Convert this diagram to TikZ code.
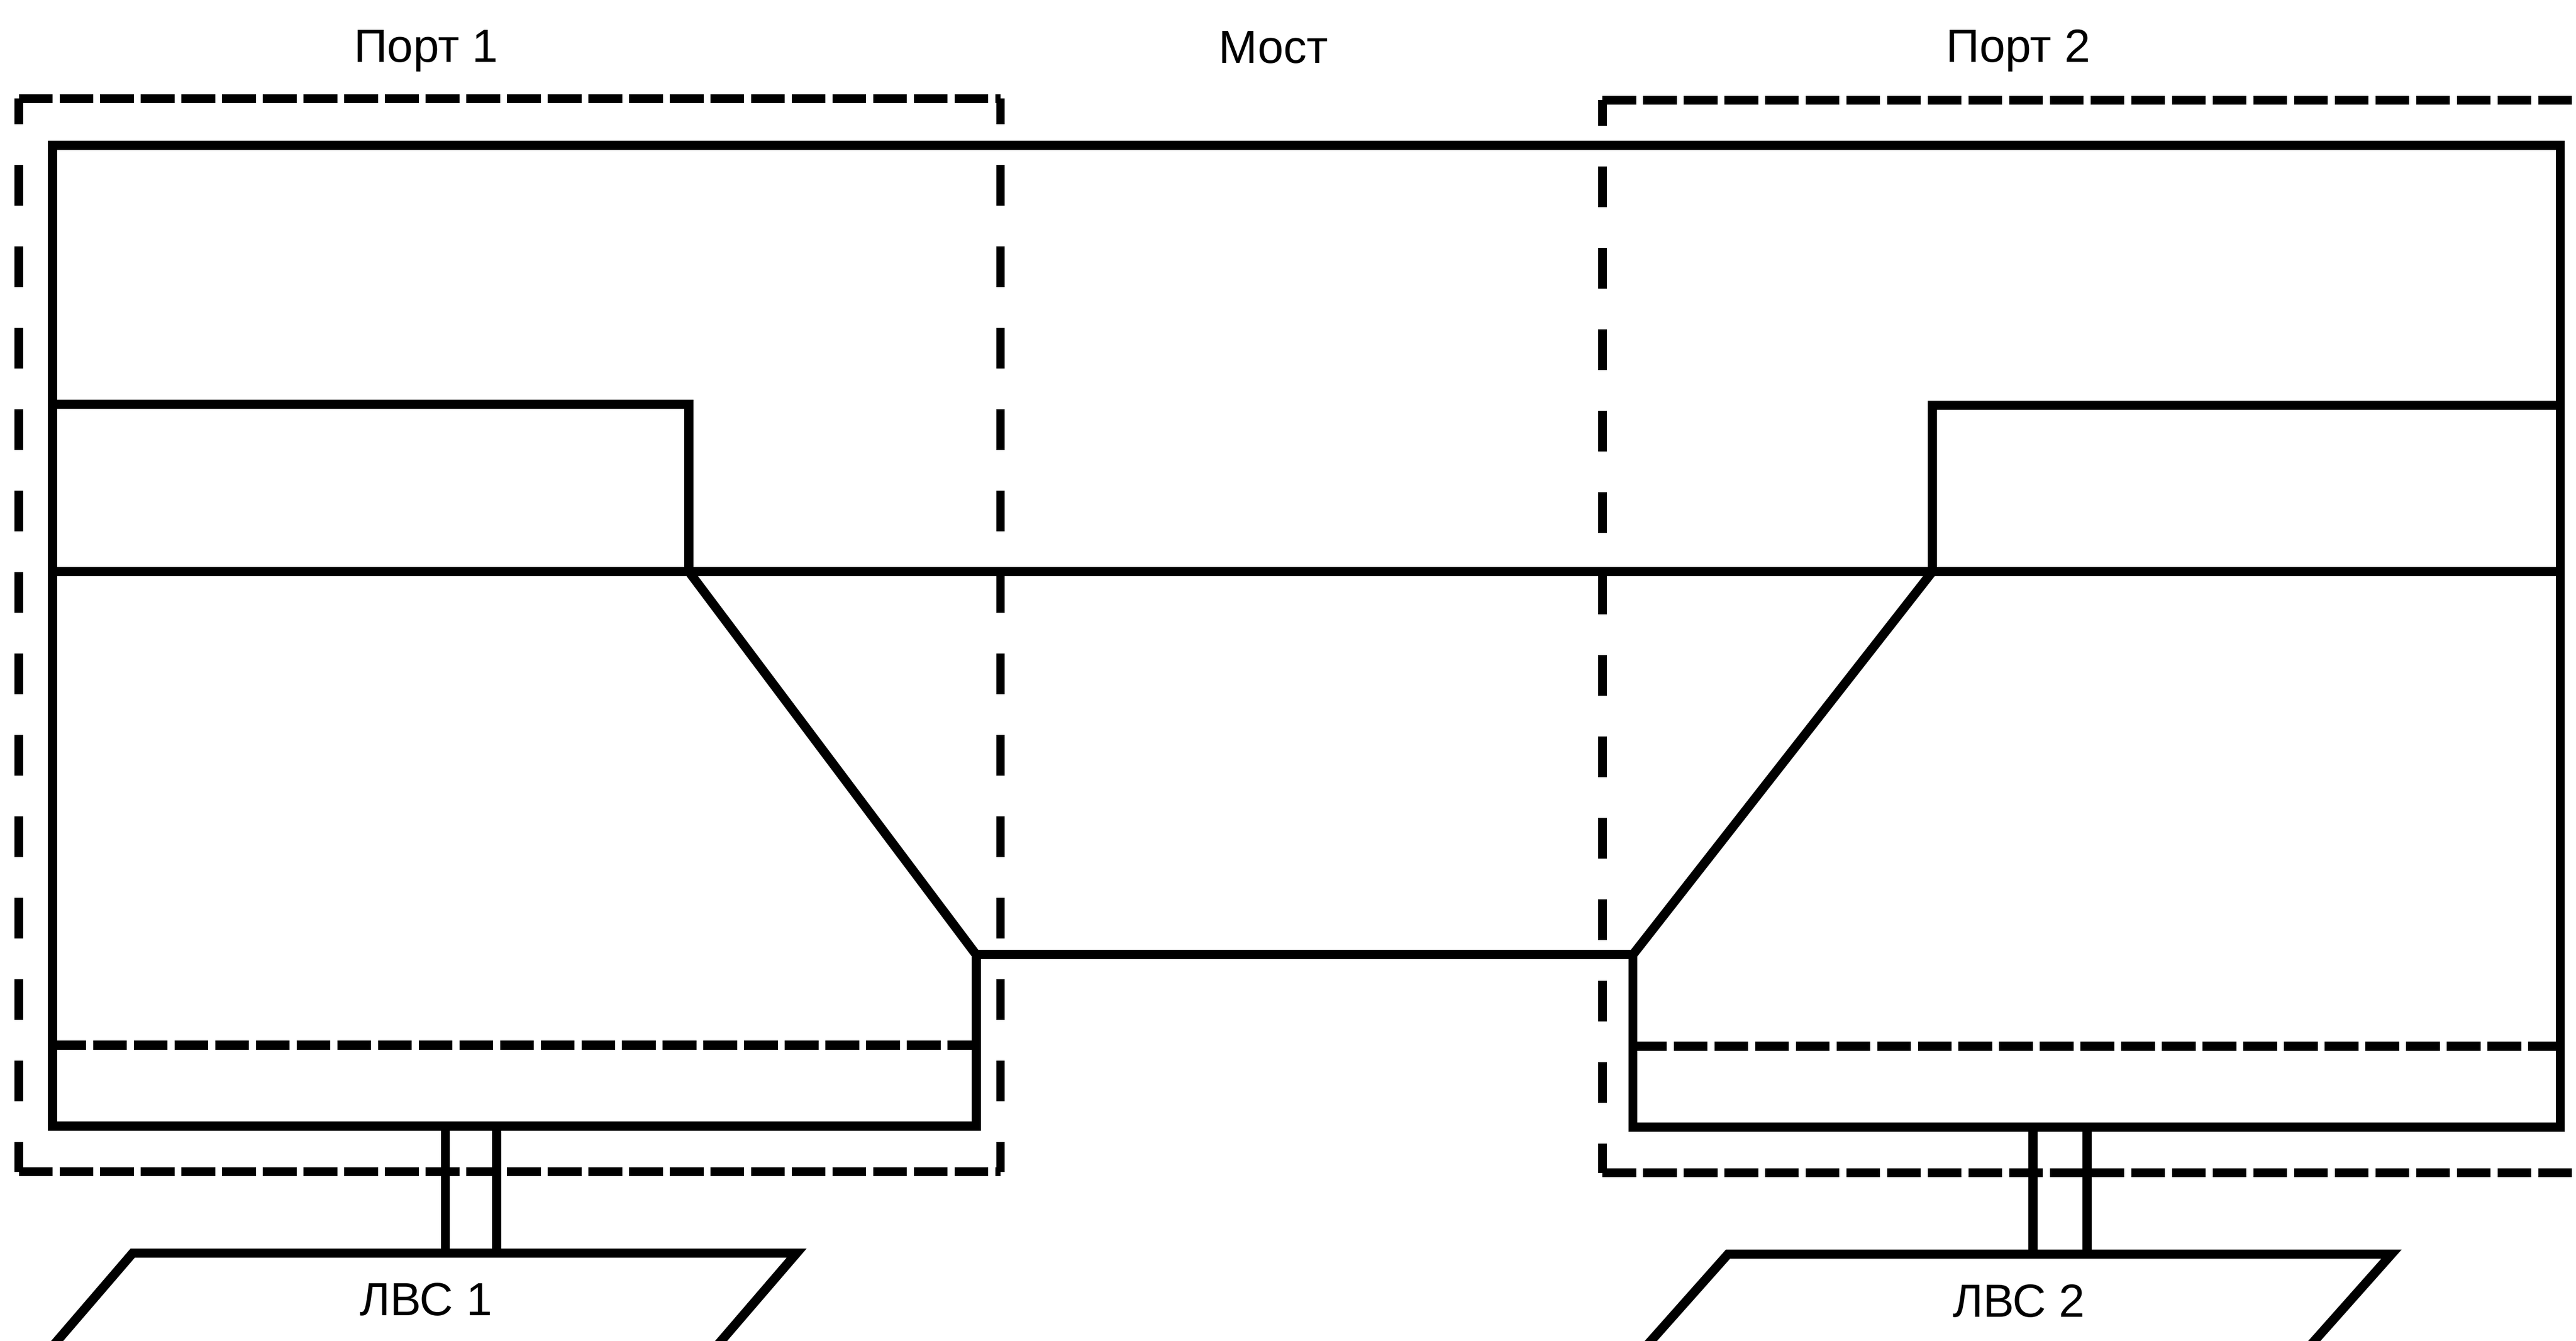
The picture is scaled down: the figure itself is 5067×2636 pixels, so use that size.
\documentclass[tikz,border=0pt]{standalone}
\usepackage{fontspec}
\setmainfont{Liberation Sans}
\begin{document}
\begin{tikzpicture}[x=0.01cm,y=-0.01cm,
  solidline/.style={line width=0.18cm,line join=miter},
  hdashed/.style={line width=0.18cm,dash pattern=on 0.66cm off 0.14cm},
  vdashed/.style={line width=0.17cm,dash pattern=on 0.8cm off 0.8cm,dash phase=0.3cm},
  lbl/.style={font=\fontsize{26}{30}\selectfont,anchor=base,inner sep=0pt}]
\useasboundingbox (0,0) rectangle (5067,2636);
% labels
\node[lbl] (p1) at (838,122) {Порт 1};
\node[lbl] (most) at (2505,124) {Мост};
\node[lbl] (p2) at (3970,122) {Порт 2};
% port 1 dashed frame
\coordinate (a1) at (37,194);
\coordinate (a2) at (1968,194);
\coordinate (a3) at (1968,2304);
\coordinate (a4) at (37,2304);
\draw[hdashed] (a1) -- (a2);
\draw[hdashed] (a4) -- (a3);
\draw[vdashed] (a1) -- (a4);
\draw[vdashed] (a2) -- (a3);
% port 2 dashed frame (open to the right, beyond the edge)
\coordinate (b1) at (3152,197);
\coordinate (b2) at (5150,197);
\coordinate (b3) at (5150,2306);
\coordinate (b4) at (3152,2306);
\draw[hdashed] (b1) -- (b2);
\draw[hdashed] (b4) -- (b3);
\draw[vdashed] (b1) -- (b4);
% main outline
\coordinate (tl) at (103,286);
\coordinate (tr) at (5036,286);
\coordinate (bl) at (103,2214);
\coordinate (lb) at (1920,2214);
\coordinate (lk) at (1920,1877);
\coordinate (rk) at (3212,1877);
\coordinate (rb) at (3212,2216);
\coordinate (br) at (5036,2216);
\draw[solidline] (tl) -- (tr) -- (br) -- (rb) -- (rk) -- (lk) -- (lb) -- (bl) -- cycle;
% middle line
\coordinate (ml) at (103,1124);
\coordinate (mr) at (5036,1124);
\draw[solidline] (ml) -- (mr);
% upper inner boxes
\coordinate (lt0) at (103,795);
\coordinate (lt1) at (1355,795);
\coordinate (lm) at (1355,1124);
\draw[solidline] (lt0) -- (lt1) -- (lm) -- (lk);
\coordinate (rt0) at (5036,797);
\coordinate (rt1) at (3801,797);
\coordinate (rm) at (3801,1124);
\draw[solidline] (rt0) -- (rt1) -- (rm) -- (rk);
% inner dashed lines
\coordinate (ld0) at (103,2055);
\coordinate (ld1) at (1920,2055);
\draw[hdashed] (ld0) -- (ld1);
\coordinate (rd0) at (3212,2057);
\coordinate (rd1) at (5036,2057);
\draw[hdashed] (rd0) -- (rd1);
% LAN 1
\coordinate (n1a) at (261,2464);
\coordinate (n1b) at (1567,2464);
\coordinate (n1c) at (1364,2700);
\coordinate (n1d) at (58,2700);
\draw[solidline] (n1d) -- (n1a) -- (n1b) -- (n1c);
\node[lbl] (lan1) at (838,2587) {ЛВС 1};
\coordinate (c1t) at (876,2214);
\coordinate (c1b) at (876,2464);
\coordinate (c2t) at (977,2214);
\coordinate (c2b) at (977,2464);
\draw[solidline] (c1t) -- (c1b);
\draw[solidline] (c2t) -- (c2b);
% LAN 2
\coordinate (n2a) at (3399,2466);
\coordinate (n2b) at (4704,2466);
\coordinate (n2c) at (4496,2700);
\coordinate (n2d) at (3191,2700);
\draw[solidline] (n2d) -- (n2a) -- (n2b) -- (n2c);
\node[lbl] (lan2) at (3971,2590) {ЛВС 2};
\coordinate (c3t) at (3999,2216);
\coordinate (c3b) at (3999,2466);
\coordinate (c4t) at (4105,2216);
\coordinate (c4b) at (4105,2466);
\draw[solidline] (c3t) -- (c3b);
\draw[solidline] (c4t) -- (c4b);
\end{tikzpicture}
\end{document}
